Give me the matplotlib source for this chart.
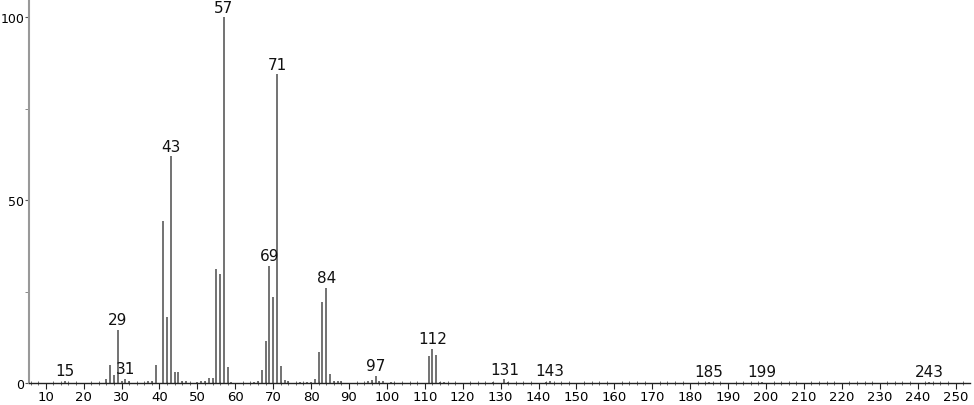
import matplotlib.pyplot as plt
from matplotlib.ticker import MultipleLocator

# m/z and relative intensity
mz = [15, 26, 27, 28, 29, 30, 31, 32, 37, 38, 39, 41, 42, 43, 44, 45, 46, 47,
      50, 51, 52, 53, 54, 55, 56, 57, 58, 59, 65, 66, 67, 68, 69, 70, 71, 72,
      73, 74, 77, 79, 80, 81, 82, 83, 84, 85, 86, 87, 88, 95, 96, 97, 98, 99,
      101, 111, 112, 113, 114, 115, 128, 131, 132, 142, 143, 185, 199, 243]
intensity = [0.5, 1.0, 5.0, 2.2, 14.5, 0.5, 1.2, 0.5, 0.5, 0.6, 4.9, 44.3, 18.0,
             62.0, 3.0, 3.0, 0.5, 0.5, 0.3, 0.5, 0.5, 1.5, 1.5, 31.1, 29.8, 100.0,
             4.4, 0.3, 0.3, 0.5, 3.5, 11.6, 32.0, 23.6, 84.4, 4.6, 0.8, 0.5, 0.3,
             0.3, 0.3, 1.2, 8.4, 22.2, 26.1, 2.5, 0.5, 0.5, 0.5, 0.5, 0.8, 2.0,
             0.6, 0.5, 0.3, 7.3, 9.3, 7.7, 0.4, 0.4, 0.3, 1.0, 0.3, 0.2, 0.5,
             0.3, 0.3, 0.3]
labeled = [15, 29, 31, 43, 57, 69, 71, 84, 97, 112, 131, 143, 185, 199, 243]

fig = plt.figure(figsize=(9.74, 4.06), dpi=100)
ax = fig.add_axes([0.0298, 0.0542, 0.966, 0.94])

ax.vlines(mz, 0, intensity, color="#5a5a5a", linewidth=1.2)

for m, v in zip(mz, intensity):
    if m in labeled:
        ax.annotate(str(m), (m, v), xytext=(0, 2), textcoords="offset points",
                    ha="center", va="bottom", fontsize=11, color="#111111")

ax.set_xlim(5.6, 253.8)
ax.set_ylim(0, 104.4)
ax.xaxis.set_major_locator(MultipleLocator(10))
ax.xaxis.set_minor_locator(MultipleLocator(2))
ax.yaxis.set_major_locator(MultipleLocator(50))
ax.yaxis.set_minor_locator(MultipleLocator(25))

ax.spines["top"].set_visible(False)
ax.spines["right"].set_visible(False)
ax.spines["left"].set_color("#999999")
ax.spines["left"].set_linewidth(1.5)
ax.spines["bottom"].set_color("#222222")
ax.spines["bottom"].set_linewidth(1.0)

ax.tick_params(axis="x", which="major", direction="out", length=4, width=0.8,
               labelsize=9.5, pad=1, color="#222222")
ax.tick_params(axis="x", which="minor", direction="inout", length=3, width=0.6,
               color="#555555")
ax.tick_params(axis="y", which="major", direction="out", length=3, width=0.8,
               labelsize=9, pad=0.5, color="#555555")
ax.tick_params(axis="y", which="minor", direction="out", length=3, width=0.6,
               color="#777777")

fig.savefig("out.png", dpi=100)
